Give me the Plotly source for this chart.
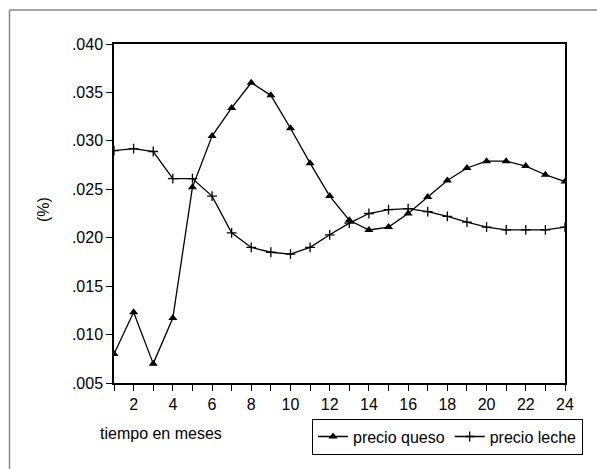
import plotly.graph_objects as go

months = list(range(1, 25))
precio_queso = [0.0080, 0.0123, 0.0070, 0.0117, 0.0252, 0.0305, 0.0334, 0.0360, 0.0347, 0.0313,
                0.0277, 0.0243, 0.0218, 0.0208, 0.0211, 0.0225, 0.0242, 0.0259, 0.0272, 0.0279,
                0.0279, 0.0274, 0.0265, 0.0258]
precio_leche = [0.0290, 0.0292, 0.0289, 0.0261, 0.0261, 0.0243, 0.0205, 0.0190, 0.0185, 0.0183,
                0.0190, 0.0203, 0.0215, 0.0225, 0.0229, 0.0230, 0.0227, 0.0222, 0.0216, 0.0211,
                0.0208, 0.0208, 0.0208, 0.0211]
x_tick_vals = list(range(2, 25, 2))
y_tick_vals = [0.005, 0.010, 0.015, 0.020, 0.025, 0.030, 0.035, 0.040]
y_tick_text = [".005", ".010", ".015", ".020", ".025", ".030", ".035", ".040"]

FONT = "Liberation Sans, Arial, sans-serif"
FS = 16

fig = go.Figure()
fig.add_trace(go.Scatter(x=months, y=precio_queso, mode="lines+markers", name="precio queso",
                         line=dict(color="black", width=1.3),
                         marker=dict(symbol="triangle-up", size=8, color="black")))
fig.add_trace(go.Scatter(x=months, y=precio_leche, mode="lines+markers", name="precio leche",
                         line=dict(color="black", width=1.3),
                         marker=dict(symbol="cross-thin", size=7, color="black",
                                     line=dict(color="black", width=1.3))))

fig.update_layout(
    width=597, height=469,
    margin=dict(l=114, r=32, t=44, b=86),
    paper_bgcolor="white", plot_bgcolor="white",
    font=dict(family=FONT, size=FS, color="black"),
    showlegend=True,
    legend=dict(orientation="h", x=0.439, y=-0.105, xanchor="left", yanchor="top",
                bordercolor="black", borderwidth=1, font=dict(size=FS), tracegroupgap=0),
    xaxis=dict(range=[1, 24], tickmode="array", tickvals=x_tick_vals, showgrid=False,
               zeroline=False, showline=True, linecolor="black", linewidth=1.5, mirror=True,
               ticks="outside", ticklen=6, tickcolor="black", tickwidth=1,
               minor=dict(tickmode="array", tickvals=months, ticks="outside", ticklen=6,
                          tickcolor="black", tickwidth=1)),
    yaxis=dict(range=[0.005, 0.040], tickmode="array", tickvals=y_tick_vals, ticktext=y_tick_text,
               showgrid=False, zeroline=False, showline=True, linecolor="black", linewidth=1.5,
               mirror=True, ticks="outside", ticklen=6, tickcolor="black", tickwidth=1),
    annotations=[
        dict(text="(%)", xref="paper", yref="paper", x=(43 - 114) / 451, y=(383 - 210) / 339,
             xanchor="center", yanchor="middle", textangle=-90, showarrow=False,
             font=dict(size=FS)),
        dict(text="tiempo en meses", xref="paper", yref="paper", x=(98 - 114) / 451,
             y=(383 - 433) / 339, xanchor="left", yanchor="middle", showarrow=False,
             font=dict(size=FS)),
    ],
    shapes=[
        dict(type="line", xref="paper", yref="paper", x0=(9.5 - 114) / 451, x1=1.2,
             y0=(383 - 10) / 339, y1=(383 - 10) / 339, line=dict(color="#888888", width=1.5)),
        dict(type="line", xref="paper", yref="paper", x0=(9.5 - 114) / 451, x1=(9.5 - 114) / 451,
             y0=(383 - 10) / 339, y1=-0.4, line=dict(color="#888888", width=1.5)),
    ],
)

fig.write_html("out.html")
